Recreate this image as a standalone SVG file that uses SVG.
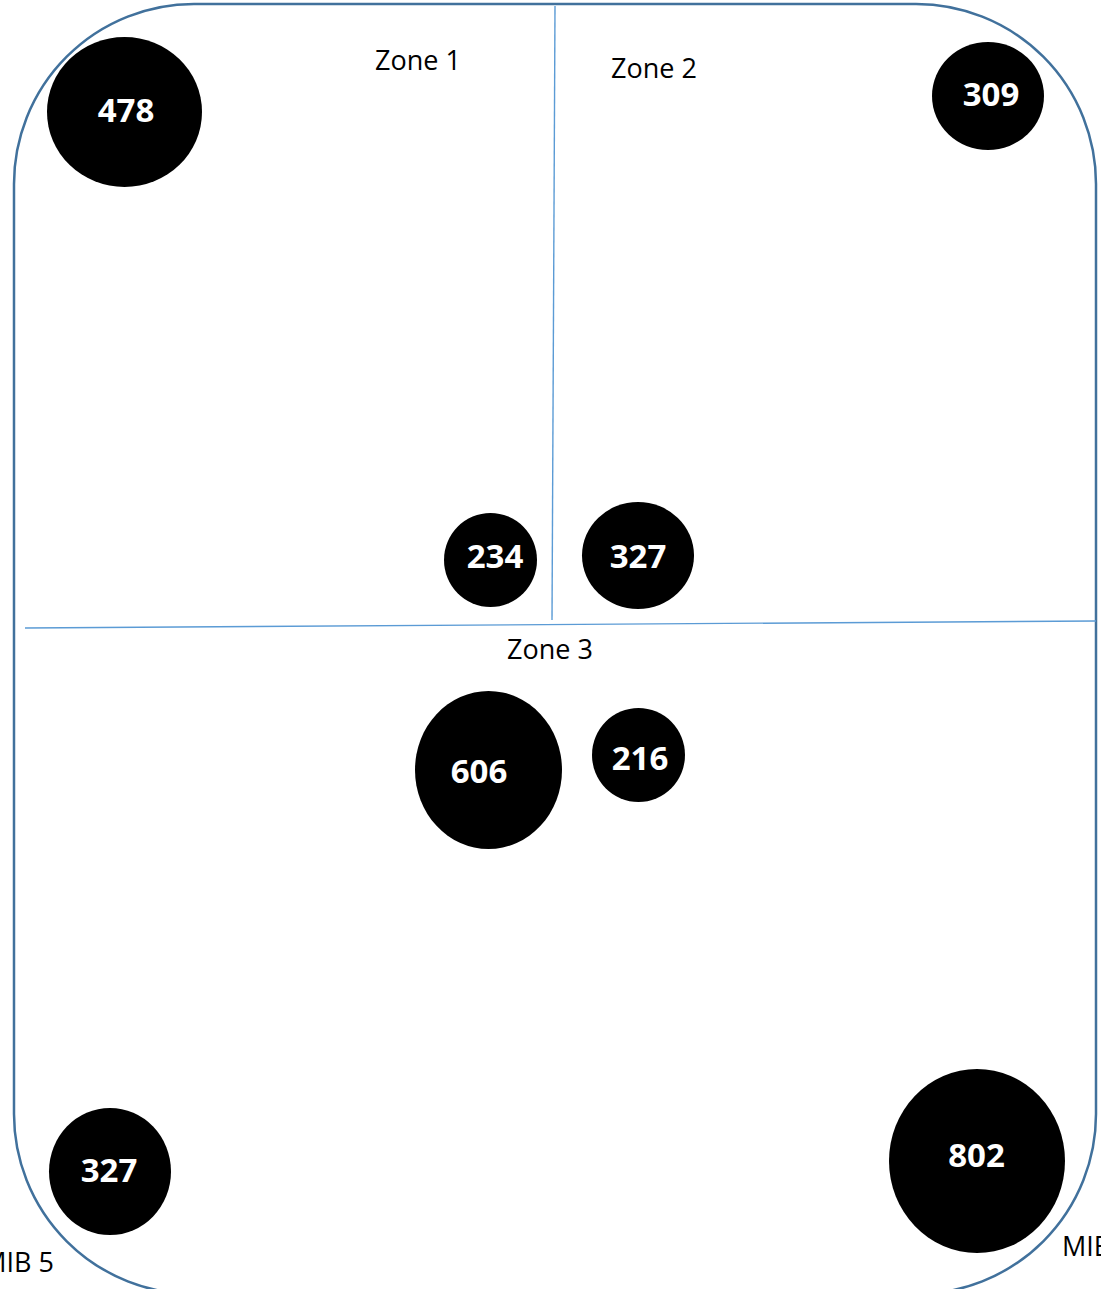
<svg xmlns="http://www.w3.org/2000/svg" width="1101" height="1289" viewBox="0 0 1101 1289">
<style>
.frame{fill:none;stroke:#41719C;stroke-width:2.5}
.div{stroke:#5B9BD5;stroke-width:1.4;fill:none}
.dot{fill:#000}
.num{font-family:"Open Sans","Liberation Sans",sans-serif;font-weight:bold;font-size:33px;fill:#fff;text-anchor:middle}
.lbl{font-family:"Open Sans","Liberation Sans",sans-serif;font-size:27px;fill:#000;text-anchor:middle}
</style>
<rect width="1101" height="1289" fill="#fff"/>
<rect class="frame" x="14" y="4" width="1082" height="1290" rx="180" ry="180"/>
<g id="connectors">
<line class="div" x1="555" y1="6" x2="552" y2="620"/>
<line class="div" x1="25" y1="628" x2="1096" y2="621"/>
</g>
<g id="labels">
<text class="lbl" x="418" y="70">Zone 1</text>
<text class="lbl" x="654" y="78">Zone 2</text>
<text class="lbl" x="550" y="659">Zone 3</text>
<text class="lbl" x="54" y="1272" style="text-anchor:end">MIB 5</text>
<text class="lbl" x="1062" y="1256" style="text-anchor:start">MIB</text>
</g>
<g id="n478"><ellipse class="dot" cx="124.5" cy="112" rx="77.5" ry="75"/><text class="num" x="126" y="122">478</text></g>
<g id="n309"><ellipse class="dot" cx="988" cy="96" rx="56" ry="54"/><text class="num" x="991" y="106">309</text></g>
<g id="n234"><ellipse class="dot" cx="490.5" cy="560" rx="46.5" ry="47"/><text class="num" x="495" y="568">234</text></g>
<g id="n327a"><ellipse class="dot" cx="638" cy="555.5" rx="56" ry="53.5"/><text class="num" x="638" y="568">327</text></g>
<g id="n606"><ellipse class="dot" cx="488.5" cy="770" rx="73.5" ry="79"/><text class="num" x="479" y="783">606</text></g>
<g id="n216"><ellipse class="dot" cx="638.5" cy="755" rx="46.5" ry="47"/><text class="num" x="640" y="770">216</text></g>
<g id="n327b"><ellipse class="dot" cx="110" cy="1171.5" rx="61" ry="63.5"/><text class="num" x="109" y="1182">327</text></g>
<g id="n802"><ellipse class="dot" cx="977" cy="1161" rx="88" ry="92"/><text class="num" x="976.5" y="1167">802</text></g>
</svg>
